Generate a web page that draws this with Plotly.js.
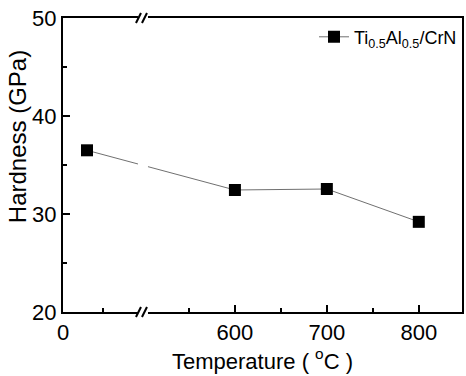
<!DOCTYPE html>
<html>
<head>
<meta charset="utf-8">
<script src="https://cdn.plot.ly/plotly-3.0.1.min.js"></script>
<style>html,body{margin:0;padding:0;background:#fff;}#chart{width:466px;height:376px;}</style>
</head>
<body>
<div id="chart"></div>
<script>
// Data
const temperature = [30, 600, 700, 800];
const hardness = [36.5, 32.45, 32.55, 29.2];
const seriesName = 'Ti<sub>0.5</sub>Al<sub>0.5</sub>/CrN';
const xTickValues = [0, 600, 700, 800];
const xTickLabels = ['0', '600', '700', '800'];
const xMinorValues = [50, 550, 650, 750];
const yTickValues = [20, 30, 40, 50];
const yMinorValues = [25, 35, 45];

// Broken-axis mapping: left segment [0, breakLo], right segment [breakHi, xMax]
const breakLo = 100, breakHi = 500, xMax = 847;
const leftScale = 0.87;
function fx(t) { return t <= breakLo ? t * leftScale : breakLo * leftScale + (t - breakHi); }
const breakPos = fx(breakLo);

const font = 'Liberation Sans, Arial, sans-serif';

const trace = {
  x: temperature.map(fx),
  y: hardness,
  mode: 'lines+markers',
  name: seriesName,
  line: {color: '#707070', width: 1},
  marker: {symbol: 'square', size: 12, color: '#000', line: {color: '#000', width: 0}},
  showlegend: true
};
// invisible trace to activate minor-tick axes
const helper = {x: [fx(0)], y: [20], xaxis: 'x2', yaxis: 'y2', mode: 'markers',
  marker: {opacity: 0}, showlegend: false, hoverinfo: 'skip'};

const shapes = [];
// White gap across the plot at the break
shapes.push({type: 'rect', xref: 'x', yref: 'paper', xsizemode: 'pixel', xanchor: breakPos,
  x0: -5, x1: 5, y0: -0.02, y1: 1.02, fillcolor: '#fff', line: {width: 0}, layer: 'above'});
// Slashes at top and bottom
[0, 1].forEach(function (yp) {
  [-7, -1].forEach(function (off) {
    shapes.push({type: 'line', xref: 'x', yref: 'paper', xsizemode: 'pixel', xanchor: breakPos,
      ysizemode: 'pixel', yanchor: yp, x0: off, x1: off + 5, y0: -5, y1: 5,
      line: {color: '#000', width: 2}, layer: 'above'});
  });
});

const layout = {
  width: 466, height: 376,
  margin: {l: 63, r: 4, t: 18, b: 64},
  paper_bgcolor: '#fff', plot_bgcolor: '#fff',
  font: {family: font, color: '#000', size: 20},
  showlegend: true,
  legend: {x: 1, xanchor: 'right', y: 0.935, yanchor: 'middle', bgcolor: 'rgba(0,0,0,0)',
    font: {family: font, size: 18, color: '#000'}},
  xaxis: {
    range: [0, fx(xMax)],
    tickmode: 'array', tickvals: xTickValues.map(fx), ticktext: xTickLabels,
    ticks: 'inside', ticklen: 7, tickwidth: 2, tickcolor: '#000',
    showline: true, linecolor: '#000', linewidth: 2, mirror: true,
    showgrid: false, zeroline: false,
    tickfont: {family: font, size: 22, color: '#000'},
    title: {text: 'Temperature ( <sup>o</sup>C )', font: {family: font, size: 22, color: '#000'}, standoff: 4}
  },
  xaxis2: {
    overlaying: 'x', side: 'bottom', anchor: 'y', range: [0, fx(xMax)],
    tickmode: 'array', tickvals: xMinorValues.map(fx), showticklabels: false,
    ticks: 'inside', ticklen: 4, tickwidth: 2, tickcolor: '#000',
    showline: false, showgrid: false, zeroline: false
  },
  yaxis: {
    range: [20, 50],
    tickmode: 'array', tickvals: yTickValues,
    ticks: 'inside', ticklen: 7, tickwidth: 2, tickcolor: '#000',
    showline: true, linecolor: '#000', linewidth: 2, mirror: true,
    showgrid: false, zeroline: false,
    tickfont: {family: font, size: 22, color: '#000'}
  },
  yaxis2: {
    overlaying: 'y', side: 'left', anchor: 'x', range: [20, 50],
    tickmode: 'array', tickvals: yMinorValues, showticklabels: false,
    ticks: 'inside', ticklen: 4, tickwidth: 2, tickcolor: '#000',
    showline: false, showgrid: false, zeroline: false
  },
  annotations: [{
    text: 'Hardness (GPa)', textangle: -90, xref: 'paper', yref: 'paper',
    x: -0.115, y: 0.595, xanchor: 'center', yanchor: 'middle', showarrow: false,
    font: {family: font, size: 24, color: '#000'}
  }],
  shapes: shapes
};

Plotly.newPlot('chart', [trace, helper], layout, {displayModeBar: false, staticPlot: true});
</script>
</body>
</html>
